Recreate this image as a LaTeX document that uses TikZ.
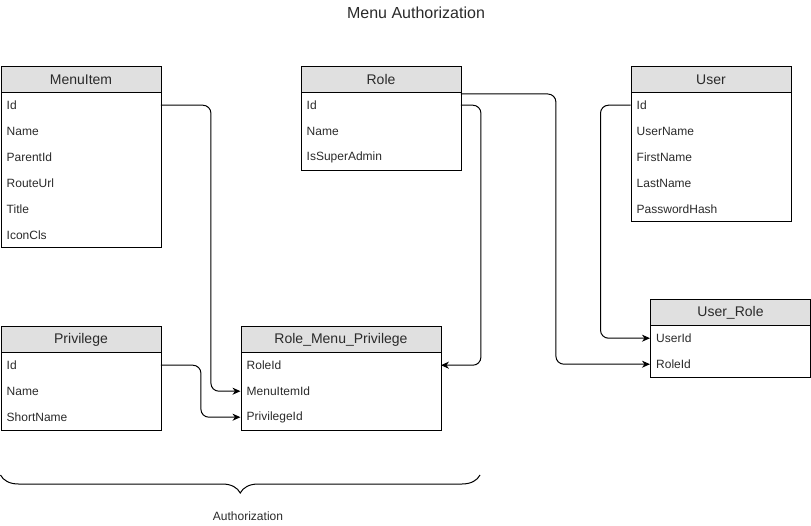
\documentclass[tikz,border=0pt]{standalone}
\usepackage{fontspec}
\setmainfont{Liberation Sans}
\usetikzlibrary{arrows.meta,decorations.pathreplacing,calc}
\definecolor{hdrfill}{HTML}{E0E0E0}
\definecolor{ink}{HTML}{2A2A2A}

\begin{document}
\begin{tikzpicture}[x=1pt,y=-1pt,
  tablebox/.style={draw=black,line width=1pt,anchor=north west,inner sep=0pt},
  hdr/.style={draw=black,line width=1pt,fill=hdrfill,anchor=north west,inner sep=0pt,
    minimum height=26pt,text=ink,font=\fontsize{14}{16}\selectfont},
  field/.style={anchor=north west,inner xsep=6pt,inner ysep=0pt,minimum height=26pt,
    align=left,text=ink,font=\fontsize{12}{14}\selectfont},
  link/.style={draw=black,line width=1pt,rounded corners=8pt,
    -{Stealth[length=8pt,width=7pt,inset=2.5pt]}},
  bracket/.style={draw=black,line width=1pt,decorate,
    decoration={brace,mirror,amplitude=18pt}},
]
\useasboundingbox (0,0) rectangle (811,526);

% title
\node[text=ink,font=\fontsize{16}{18}\selectfont] (title) at (416,13) {Menu Authorization};

% MenuItem
\node[tablebox,minimum width=160pt,minimum height=181pt] (menuitem) at (0.5,66) {};
\node[hdr,minimum width=160pt] (menuitem-h) at (0.5,66) {MenuItem};
\node[field,text width=148pt] (mi-id)     at (0.5,92)  {Id};
\node[field,text width=148pt] (mi-name)   at (0.5,118) {Name};
\node[field,text width=148pt] (mi-parent) at (0.5,144) {ParentId};
\node[field,text width=148pt] (mi-route)  at (0.5,170) {RouteUrl};
\node[field,text width=148pt] (mi-title)  at (0.5,196) {Title};
\node[field,text width=148pt] (mi-icon)   at (0.5,222) {IconCls};

% Role
\node[tablebox,minimum width=160pt,minimum height=104pt] (role) at (300.5,66) {};
\node[hdr,minimum width=160pt] (role-h) at (300.5,66) {Role};
\node[field,text width=148pt] (ro-id)    at (300.5,92)  {Id};
\node[field,text width=148pt] (ro-name)  at (300.5,118) {Name};
\node[field,text width=148pt] (ro-super) at (300.5,144) {IsSuperAdmin};

% User
\node[tablebox,minimum width=160pt,minimum height=155pt] (user) at (630.5,66) {};
\node[hdr,minimum width=160pt] (user-h) at (630.5,66) {User};
\node[field,text width=148pt] (us-id)    at (630.5,92)  {Id};
\node[field,text width=148pt] (us-uname) at (630.5,118) {UserName};
\node[field,text width=148pt] (us-first) at (630.5,144) {FirstName};
\node[field,text width=148pt] (us-last)  at (630.5,170) {LastName};
\node[field,text width=148pt] (us-pass)  at (630.5,196) {PasswordHash};

% Privilege
\node[tablebox,minimum width=160pt,minimum height=104pt] (privilege) at (0.5,326) {};
\node[hdr,minimum width=160pt] (privilege-h) at (0.5,326) {Privilege};
\node[field,text width=148pt] (pr-id)    at (0.5,352) {Id};
\node[field,text width=148pt] (pr-name)  at (0.5,378) {Name};
\node[field,text width=148pt] (pr-short) at (0.5,404) {ShortName};

% Role_Menu_Privilege
\node[tablebox,minimum width=200pt,minimum height=104pt] (rmp) at (240.5,326) {};
\node[hdr,minimum width=200pt] (rmp-h) at (240.5,326) {Role\_Menu\_Privilege};
\node[field,text width=188pt] (rmp-role) at (240.5,352) {RoleId};
\node[field,text width=188pt] (rmp-menu) at (240.5,378) {MenuItemId};
\node[field,text width=188pt] (rmp-priv) at (240.5,404) {PrivilegeId};

% User_Role
\node[tablebox,minimum width=160pt,minimum height=78pt] (userrole) at (650,299) {};
\node[hdr,minimum width=160pt] (userrole-h) at (650,299) {User\_Role};
\node[field,text width=148pt] (ur-user) at (650,325) {UserId};
\node[field,text width=148pt] (ur-role) at (650,351) {RoleId};

% relations
\draw[link] (mi-id.east) -- ++(50,0) |- (rmp-menu.west);
\draw[link] (pr-id.east) -- ++(40,0) |- (rmp-priv.west);
\draw[link] (ro-id.east) -- ++(20,0) |- (rmp-role.east);
\draw[link] ([yshift=-2pt]ro-id.north east) -- ++(95,0) |- (ur-role.west);
\draw[link] (us-id.west) -- ++(-30,0) |- (ur-user.west);

% grouping bracket
\coordinate (brace-l) at (0.5,475);
\coordinate (brace-r) at (480,475);
\draw[bracket] (brace-l) -- (brace-r);
\node[text=ink,font=\fontsize{12}{14}\selectfont] (group) at (248,516) {Authorization};
\end{tikzpicture}
\end{document}
